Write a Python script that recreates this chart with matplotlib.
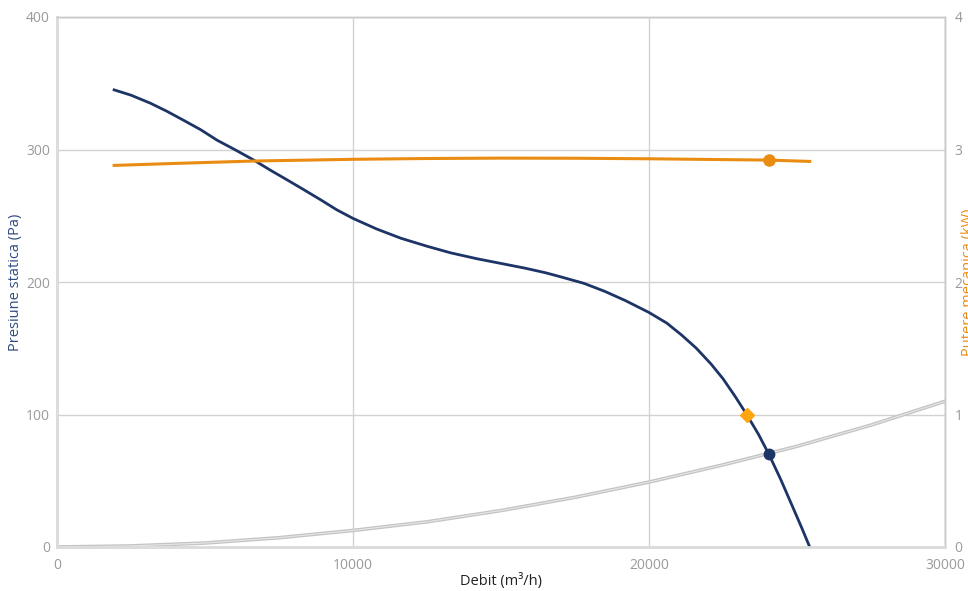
import matplotlib.pyplot as plt

plt.rcParams["font.family"] = ["Open Sans", "DejaVu Sans"]

# curba ventilatorului: debit (m3/h) -> presiune statica (Pa)
FLOW = [1930, 2500, 3150, 3700, 4280, 4850, 5410, 6000, 6650, 7200, 7780,
        8350, 8910, 9450, 10000, 10800, 11620, 12500, 13300, 14200, 15000,
        15800, 16500, 17000, 17800, 18500, 19200, 20000, 20600, 21100,
        21600, 22100, 22500, 22900, 23300, 23700, 24050, 24450, 24820,
        25150, 25430]
PRESSURE = [345, 341, 335, 329, 322, 315, 307, 300, 292, 284.5, 277,
            269.5, 262, 254.5, 248, 240, 233, 227, 222, 217.5, 214,
            210.5, 207, 204, 199, 193, 186, 177, 169, 160,
            150, 138, 127, 114, 100, 85, 70, 51, 32,
            15, 0]

# putere mecanica (kW)
POWER_FLOW = [1930, 4000, 6650, 10000, 12500, 15000, 17500, 20000, 22000,
              24080, 25430]
POWER = [2.88, 2.895, 2.913, 2.926, 2.932, 2.935, 2.934, 2.93, 2.925,
         2.92, 2.91]

# curba retelei
SYS_FLOW = [0, 2500, 5000, 7500, 10000, 12500, 15000, 17500, 20000, 22500,
            25000, 27500, 30000]
SYS_PRESSURE = [0, 0.8, 3, 7, 12.5, 19, 27.5, 37.5, 49, 62, 76, 92, 110]

# punct de functionare
OP_FLOW = 24050
OP_PRESSURE = 70
OP_POWER = 2.92
DESIGN_FLOW = 23300
DESIGN_PRESSURE = 100

BLUE = "#1d3466"
ORANGE = "#ea8c12"
GRAY_TXT = "#9a9a9a"

fig = plt.figure(figsize=(9.68, 5.91), dpi=100)
ax = fig.add_axes([57 / 968, 44 / 591, 888 / 968, 530 / 591])
ax2 = ax.twinx()

ax.plot(SYS_FLOW, SYS_PRESSURE, color="#c4c4c4", lw=2.6, zorder=2)
ax.plot(SYS_FLOW, SYS_PRESSURE, color="#e6e6e6", lw=0.8, zorder=2)
ax.plot(FLOW, PRESSURE, color=BLUE, lw=2, zorder=3)
ax.plot(DESIGN_FLOW, DESIGN_PRESSURE, marker="D", color="#ffa510", ms=7, zorder=5)
ax.plot(OP_FLOW, OP_PRESSURE, marker="o", color=BLUE, ms=7.5, zorder=5)

ax2.plot(POWER_FLOW, POWER, color=ORANGE, lw=2.2, zorder=3)
ax2.plot(OP_FLOW, OP_POWER, marker="o", color=ORANGE, ms=8, zorder=5)

ax.set_xlim(0, 30000)
ax.set_ylim(0, 400)
ax2.set_ylim(0, 4)
ax.set_xticks([0, 10000, 20000, 30000])
ax.set_yticks([0, 100, 200, 300, 400])
ax2.set_yticks([0, 1, 2, 3, 4])

ax.grid(True, color="#d2d2d2", lw=1)
ax.set_axisbelow(True)

for a in (ax, ax2):
    for side in ("top", "right"):
        a.spines[side].set_color("#c8c8c8")
        a.spines[side].set_linewidth(1)
    for side in ("left", "bottom"):
        a.spines[side].set_color("#dcdcdc")
        a.spines[side].set_linewidth(2)
    a.tick_params(length=0, labelsize=10, labelcolor=GRAY_TXT)

ax.tick_params(axis="y", pad=5)
ax.tick_params(axis="x", pad=8)
ax2.tick_params(axis="y", pad=7)

ax.set_xlabel("Debit (m³/h)", fontsize=10.5, color="#222222", labelpad=0)
mid_y = (44 + 265) / 591
fig.text(16 / 968, mid_y, "Presiune statica (Pa)", rotation=90, ha="center",
         va="center", fontsize=10.5, color="#2e4a80")
fig.text(961 / 968, mid_y, "Putere mecanica (kW)", rotation=90, ha="left",
         va="center", fontsize=10.5, color=ORANGE)

fig.savefig("out.png", dpi=100)
